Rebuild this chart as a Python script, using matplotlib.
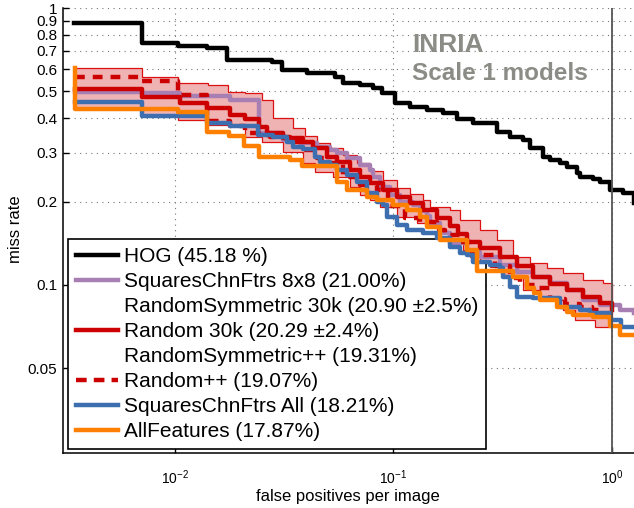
import matplotlib
matplotlib.use("Agg")
import matplotlib.pyplot as plt
from matplotlib.lines import Line2D
from matplotlib.patches import Polygon
from matplotlib.ticker import FixedLocator, NullLocator, FixedFormatter

plt.rcParams['font.family'] = ['Liberation Sans', 'DejaVu Sans']
plt.rcParams['mathtext.fontset'] = 'custom'
plt.rcParams['mathtext.rm'] = 'Liberation Sans'
plt.rcParams['mathtext.it'] = 'Liberation Sans:italic'
plt.rcParams['mathtext.bf'] = 'Liberation Sans:bold'

# ---------------- data (false positives per image vs miss rate) ----------------
hog_x = [0.00344, 0.00704, 0.0103, 0.01395, 0.01725, 0.0277, 0.0308, 0.0401, 0.054, 0.0587,
         0.0703, 0.0806, 0.0883, 0.1016, 0.119, 0.142, 0.1685, 0.1947, 0.231, 0.297, 0.341,
         0.392, 0.421, 0.483, 0.520, 0.578, 0.620, 0.689, 0.714, 0.818, 0.881, 0.975, 1.12, 1.26]
hog_y = [0.885, 0.746, 0.729, 0.715, 0.649, 0.638, 0.597, 0.581, 0.565, 0.535, 0.527, 0.513,
         0.495, 0.453, 0.44, 0.428, 0.417, 0.399, 0.385, 0.358, 0.343, 0.334, 0.311, 0.29,
         0.283, 0.275, 0.2675, 0.253, 0.246, 0.242, 0.236, 0.22, 0.214, 0.197]

sq8_x = [0.003486, 0.00704, 0.01054, 0.01785, 0.02423, 0.03121, 0.03734, 0.04452, 0.05122,
         0.05495, 0.06106, 0.07027, 0.07808, 0.08058, 0.08676, 0.09638, 0.1071, 0.1228, 0.1322,
         0.1419, 0.1469, 0.1632, 0.1814, 0.2163, 0.2487, 0.3072, 0.3663, 0.4349, 0.5203, 0.6205,
         0.7366, 0.8812, 1.088, 1.261]
sq8_y = [0.4995, 0.492, 0.481, 0.4654, 0.3537, 0.3338, 0.3248, 0.3157, 0.3072, 0.2989, 0.2868,
         0.2712, 0.2602, 0.246, 0.2264, 0.2113, 0.1999, 0.1944, 0.185, 0.1774, 0.167, 0.1536,
         0.1414, 0.1319, 0.1265, 0.1181, 0.1117, 0.1071, 0.1014, 0.0959, 0.0883, 0.0847, 0.0812,
         0.079]

r30_x = [0.003486, 0.00704, 0.01054, 0.01397, 0.01785, 0.02091, 0.02423, 0.02636, 0.03121,
         0.03853, 0.04282, 0.04946, 0.05495, 0.06325, 0.07027, 0.07808, 0.08954, 0.1034, 0.1190,
         0.1365, 0.1576, 0.1814, 0.1973, 0.2163, 0.2487, 0.3072, 0.3663, 0.4349, 0.5203, 0.6205,
         0.7366, 0.8812, 1.0]
r30_y = [0.5113, 0.4752, 0.4550, 0.4345, 0.4109, 0.3964, 0.3727, 0.3537, 0.3386, 0.3292, 0.3115,
         0.2905, 0.2787, 0.2602, 0.246, 0.2329, 0.2203, 0.2084, 0.1972, 0.1866, 0.1741, 0.1633,
         0.1528, 0.1433, 0.136, 0.1265, 0.1171, 0.1069, 0.1008, 0.0959, 0.0905, 0.0859, 0.0812]

band_up_x = [0.003486, 0.00704, 0.01035, 0.01416, 0.01748, 0.02091, 0.02502, 0.02808, 0.03467,
             0.03936, 0.04467, 0.05122, 0.05873, 0.06807, 0.07808, 0.08954, 0.1037, 0.119, 0.1365,
             0.1469, 0.1814, 0.2015, 0.2487, 0.2977, 0.3523, 0.4214, 0.5041, 0.5966, 0.7366,
             0.9095, 1.0]
band_up_y = [0.6057, 0.565, 0.5348, 0.5272, 0.4985, 0.492, 0.4654, 0.4007, 0.3688, 0.345, 0.3256,
             0.3123, 0.2947, 0.2757, 0.2579, 0.2393, 0.2239, 0.2131, 0.2027, 0.1917, 0.1866,
             0.1717, 0.1579, 0.1454, 0.1265, 0.1201, 0.1151, 0.1105, 0.1042, 0.1017, 0.1017]
band_lo_x = [0.003486, 0.00704, 0.01035, 0.01416, 0.02091, 0.02502, 0.03121, 0.03853, 0.04373,
             0.05284, 0.06325, 0.07027, 0.07808, 0.08676, 0.1037, 0.1281, 0.1581, 0.1814, 0.2079,
             0.2239, 0.2487, 0.2764, 0.317, 0.3915, 0.4683, 0.5966, 0.6772, 0.8360, 1.0]
band_lo_y = [0.4318, 0.4074, 0.3941, 0.3782, 0.3422, 0.3292, 0.3030, 0.2757, 0.2558, 0.2454,
             0.2258, 0.2113, 0.2027, 0.1912, 0.176, 0.1674, 0.154, 0.1418, 0.1338, 0.1262, 0.1211,
             0.1161, 0.1087, 0.0959, 0.0883, 0.0812, 0.0747, 0.0705, 0.0705]

rpp_x = [0.003486, 0.00704, 0.01035, 0.01397, 0.01785, 0.02091, 0.02423, 0.02721, 0.03359,
         0.03853, 0.04452, 0.04946, 0.05873, 0.07027, 0.08403, 0.09437, 0.1129, 0.1322, 0.1581,
         0.172, 0.2015, 0.2287, 0.2914, 0.3413, 0.3793, 0.4536, 0.5203, 0.6092, 0.714, 0.8102,
         0.8812]
rpp_y = [0.565, 0.5464, 0.4853, 0.3909, 0.375, 0.3546, 0.3479, 0.3429, 0.3284, 0.3072, 0.2874,
         0.2757, 0.2454, 0.2296, 0.2203, 0.1928, 0.1745, 0.1688, 0.1579, 0.1515, 0.1435, 0.1283,
         0.1171, 0.106, 0.1, 0.0975, 0.089, 0.0854, 0.0833, 0.0812, 0.0812]

sqall_x = [0.003486, 0.00704, 0.01397, 0.01785, 0.02405, 0.02808, 0.03245, 0.03467, 0.03853,
           0.04373, 0.04609, 0.05122, 0.05495, 0.06106, 0.06786, 0.07541, 0.08376, 0.0898,
           0.0931, 0.1034, 0.1149, 0.1369, 0.1576, 0.1814, 0.2015, 0.2163, 0.2311, 0.2764,
           0.3072, 0.3170, 0.3413, 0.3663, 0.4349, 0.578, 0.714, 0.793, 0.979, 1.099, 1.261]
sqall_y = [0.456, 0.4074, 0.3835, 0.375, 0.3479, 0.3422, 0.3292, 0.3157, 0.3097, 0.2905, 0.2787,
           0.2712, 0.2602, 0.2494, 0.236, 0.2143, 0.1999, 0.1944, 0.1764, 0.1647, 0.1579, 0.1536,
           0.1474, 0.1375, 0.1301, 0.1283, 0.1214, 0.1181, 0.1149, 0.1071, 0.0986, 0.0907,
           0.0895, 0.0835, 0.0812, 0.0790, 0.0747, 0.0707, 0.0707]

allf_x = [0.00349, 0.00349, 0.0103, 0.0140, 0.0177, 0.0207, 0.0242, 0.0336, 0.0381, 0.0550,
          0.0611, 0.0754, 0.0838, 0.0995, 0.115, 0.132, 0.142, 0.163, 0.216, 0.240, 0.352, 0.408,
          0.440, 0.468, 0.560, 0.622, 0.663, 0.819, 0.979, 1.09, 1.261]
allf_y = [0.609, 0.431, 0.422, 0.358, 0.345, 0.318, 0.290, 0.283, 0.268, 0.236, 0.220, 0.208,
          0.203, 0.194, 0.187, 0.176, 0.162, 0.145, 0.134, 0.112, 0.107, 0.0975, 0.0936, 0.0883,
          0.0835, 0.080, 0.078, 0.0766, 0.0711, 0.066, 0.066]

labels = ["HOG (45.18 %)", "SquaresChnFtrs 8x8 (21.00%)", "RandomSymmetric 30k (20.90 \u00b12.5%)",
          "Random 30k (20.29 \u00b12.4%)", "RandomSymmetric++ (19.31%)", "Random++ (19.07%)",
          "SquaresChnFtrs All (18.21%)", "AllFeatures (17.87%)"]

ytick_vals = [0.05, 0.1, 0.2, 0.3, 0.4, 0.5, 0.6, 0.7, 0.8, 0.9, 1]
ytick_labels = ["0.05", "0.1", "0.2", "0.3", "0.4", "0.5", "0.6", "0.7", "0.8", "0.9", "1"]
xtick_vals = [0.01, 0.1, 1]
xtick_labels = [r"$10^{-2}$", r"$10^{-1}$", r"$10^{0}$"]

xlim = (0.003072, 1.261)
ylim = (0.02474, 1.0)

# ---------------- colours ----------------
c_hog = "#000000"
c_purple = "#a77fb3"
c_red = "#cc0000"
c_blue = "#3d6fb0"
c_orange = "#ff7f00"
c_band = "#f0b3b3"
c_band_edge = "#dd1111"

W, H = 634, 508
fig = plt.figure(figsize=(W / 100, H / 100), dpi=100)
ax = fig.add_axes([63 / W, (H - 453) / H, (W - 63) / W, 445 / H])
ax.set_xscale('log')
ax.set_yscale('log')
ax.set_xlim(*xlim)
ax.set_ylim(*ylim)


def stairs(xs, ys):
    px, py = [], []
    for i in range(len(xs)):
        x1 = xs[i + 1] if i + 1 < len(xs) else xs[i]
        px += [xs[i], x1]
        py += [ys[i], ys[i]]
    return px, py


ux, uy = stairs(band_up_x, band_up_y)
lx, ly = stairs(band_lo_x, band_lo_y)
poly = Polygon(list(zip(ux + lx[::-1], uy + ly[::-1])), closed=True,
               facecolor=c_band, edgecolor=c_band_edge, linewidth=0.9, zorder=3)
ax.add_patch(poly)

lw = 3.2
ax.plot(hog_x, hog_y, drawstyle='steps-post', color=c_hog, lw=lw, zorder=4)
ax.plot(sq8_x, sq8_y, drawstyle='steps-post', color=c_purple, lw=lw, zorder=4)
ax.plot(r30_x, r30_y, drawstyle='steps-post', color=c_red, lw=lw, zorder=4.2)
ax.plot(rpp_x, rpp_y, drawstyle='steps-post', color=c_red, lw=lw, zorder=4.3,
        linestyle=(0, (2.2, 1.8)), dash_capstyle='butt')
ax.plot(sqall_x, sqall_y, drawstyle='steps-post', color=c_blue, lw=lw, zorder=4.4)
ax.plot(allf_x, allf_y, drawstyle='steps-post', color=c_orange, lw=lw, zorder=4.5)

ax.axvline(1.0, color="#555555", lw=1.3, zorder=4.6)

# axes styling
for s in ('top', 'right'):
    ax.spines[s].set_visible(False)
for s in ('left', 'bottom'):
    ax.spines[s].set_linewidth(1.1)
ax.yaxis.set_major_locator(FixedLocator(ytick_vals))
ax.yaxis.set_major_formatter(FixedFormatter(ytick_labels))
ax.yaxis.set_minor_locator(NullLocator())
ax.xaxis.set_major_locator(FixedLocator(xtick_vals))
ax.xaxis.set_major_formatter(FixedFormatter(xtick_labels))
ax.xaxis.set_minor_locator(NullLocator())
ax.tick_params(axis='both', direction='in', length=4, width=1)
ax.tick_params(axis='y', labelsize=11, pad=4)
ax.tick_params(axis='x', labelsize=10, pad=11)
ax.grid(True, which='major', color='#777777', linestyle=(0, (1, 4)), linewidth=0.8, zorder=1)
ax.set_axisbelow(True)

fig.text(15 / W, 1 - 229 / H, "miss rate", fontsize=12, rotation=90, ha='center', va='center')
fig.text(348 / W, 1 - 497 / H, "false positives per image", fontsize=12, ha='center',
         va='center')

# legend
handles = [
    Line2D([], [], color=c_hog, lw=lw),
    Line2D([], [], color=c_purple, lw=lw),
    Line2D([], [], color='none', lw=lw),
    Line2D([], [], color=c_red, lw=lw),
    Line2D([], [], color='none', lw=lw),
    Line2D([], [], color=c_red, lw=lw, linestyle=(0, (2.4, 1.6)), dash_capstyle='butt'),
    Line2D([], [], color=c_blue, lw=lw),
    Line2D([], [], color=c_orange, lw=lw),
]
leg = ax.legend(handles, labels, loc='upper left', bbox_to_anchor=(68 / W, 1 - 239 / H),
                bbox_transform=fig.transFigure, fontsize=15, frameon=True, fancybox=False,
                edgecolor='black', framealpha=1, borderpad=0.38, labelspacing=0.29,
                handlelength=2.0, handletextpad=0.3, borderaxespad=0)
leg.get_frame().set_linewidth(1.2)
leg.set_zorder(2.5)

fig.text(412 / W, 1 - 52 / H, "INRIA", fontsize=19, fontweight='bold', color='#8c8c87',
         va='baseline', ha='left')
fig.text(412 / W, 1 - 80 / H, "Scale 1 models", fontsize=17.5, fontweight='bold',
         color='#8c8c87', va='baseline', ha='left')

fig.savefig("out.png", dpi=100)
